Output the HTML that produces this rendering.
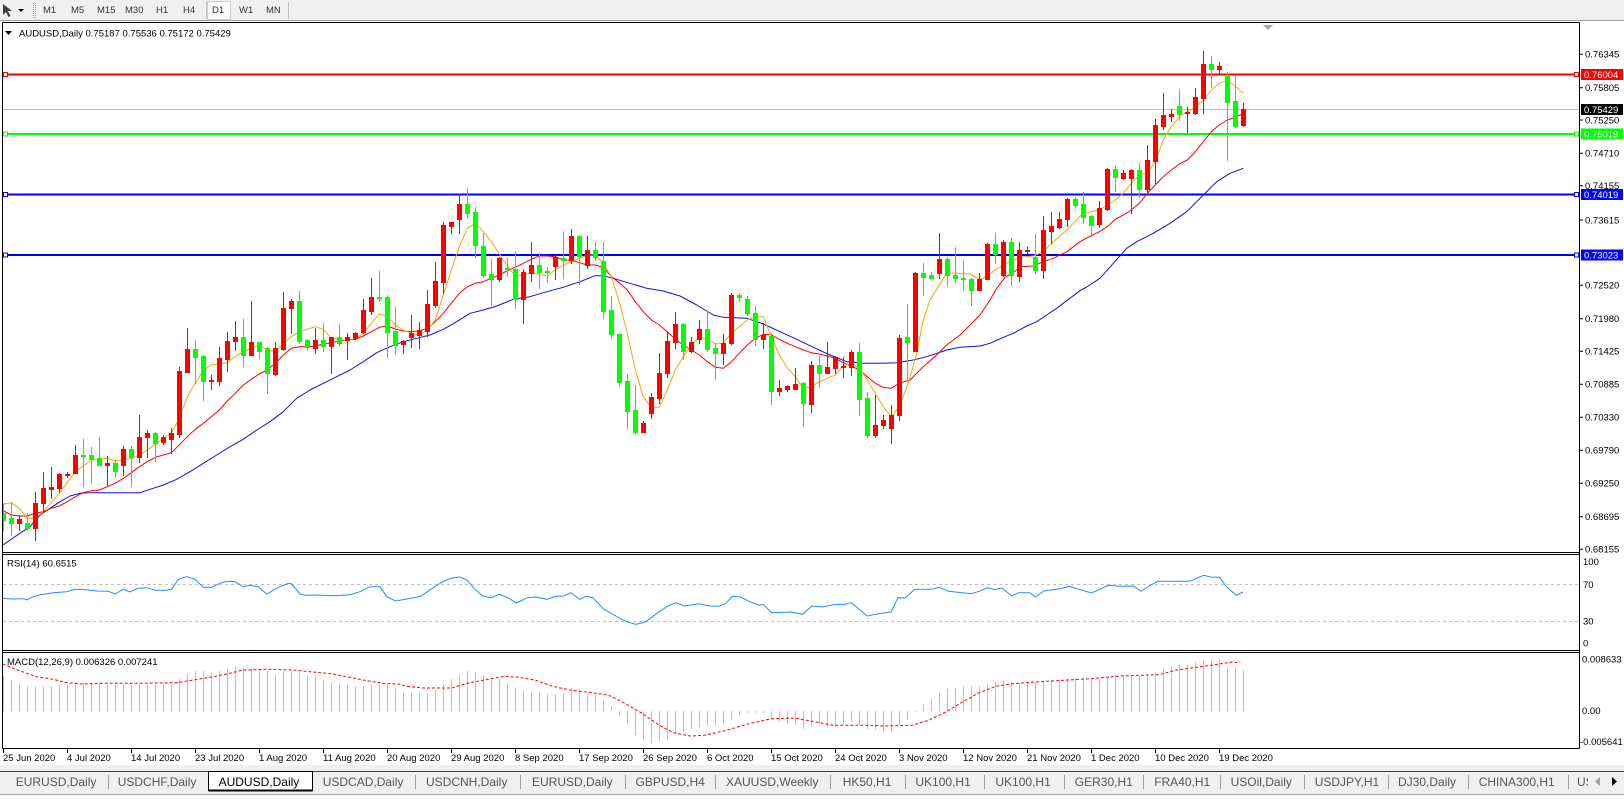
<!DOCTYPE html>
<html><head><meta charset="utf-8">
<style>
html,body{margin:0;padding:0;background:#fff;}
body{width:1624px;height:800px;overflow:hidden;}
svg{display:block;font-family:"Liberation Sans",Arial,sans-serif;}
</style></head><body>
<svg id="s" width="1624" height="800" viewBox="0 0 1624 800" xmlns="http://www.w3.org/2000/svg">
<defs>
<clipPath id="cm"><rect x="3" y="23" width="1576" height="529"/></clipPath>
<clipPath id="cr"><rect x="3" y="555" width="1576" height="95"/></clipPath>
<clipPath id="cd"><rect x="3" y="653" width="1576" height="95"/></clipPath>
</defs>
<rect width="1624" height="800" fill="#fff"/>

<!-- Toolbar -->
<rect x="0" y="0" width="1624" height="21" fill="#f0f0f0"/>
<line x1="0" y1="20.5" x2="1624" y2="20.5" stroke="#a0a0a0"/>
<path d="M3,4 L3,15 L6,12 L8.5,17 L10.5,16 L8,11 L12,11 Z" fill="#404040"/>
<polygon points="18,9 24,9 21,12" fill="#000"/>
<line x1="33.5" y1="3" x2="33.5" y2="18" stroke="#a0a0a0" stroke-dasharray="1,1"/>
<line x1="35.5" y1="3" x2="35.5" y2="18" stroke="#a0a0a0" stroke-dasharray="1,1"/>
<rect x="207.5" y="1.5" width="23" height="18" fill="#fbfbfb" stroke="#d0d0d0"/>
<line x1="206.5" y1="2" x2="206.5" y2="19" stroke="#c0c0c0"/>
<line x1="288.5" y1="2" x2="288.5" y2="19" stroke="#c0c0c0"/>
<g font-size="9.5" fill="#333">
<text x="43" y="13">M1</text><text x="71" y="13">M5</text><text x="97" y="13">M15</text><text x="125" y="13">M30</text>
<text x="156" y="13">H1</text><text x="183" y="13">H4</text><text x="212" y="13">D1</text><text x="239" y="13">W1</text><text x="266" y="13">MN</text>
</g>

<!-- Frame -->
<line x1="2.5" y1="22.5" x2="1579.5" y2="22.5" stroke="#000"/>
<line x1="2.5" y1="22.5" x2="2.5" y2="748.5" stroke="#000"/>
<line x1="1579.5" y1="22.5" x2="1579.5" y2="748.5" stroke="#000"/>
<line x1="2.5" y1="552.5" x2="1579.5" y2="552.5" stroke="#000"/>
<line x1="2.5" y1="554.5" x2="1579.5" y2="554.5" stroke="#000"/>
<line x1="2.5" y1="650.5" x2="1579.5" y2="650.5" stroke="#000"/>
<line x1="2.5" y1="652.5" x2="1579.5" y2="652.5" stroke="#000"/>
<line x1="2.5" y1="748.5" x2="1579.5" y2="748.5" stroke="#000"/>

<!-- title -->
<polygon points="5,31 12,31 8.5,35" fill="#000"/>
<text x="19" y="36.5" font-size="9.5" fill="#000">AUDUSD,Daily  0.75187 0.75536 0.75172 0.75429</text>
<polygon points="1263,25 1273,25 1268,30" fill="#a8a8a8"/>

<!-- price axis labels -->
<path d="M1579.5,54.3H1583M1579.5,87.7H1583M1579.5,120H1583M1579.5,153.3H1583M1579.5,185.7H1583M1579.5,220H1583M1579.5,285.3H1583M1579.5,318.7H1583M1579.5,351.3H1583M1579.5,384.3H1583M1579.5,417.3H1583M1579.5,450.3H1583M1579.5,483.3H1583M1579.5,516.7H1583M1579.5,549.3H1583" stroke="#000"/>
<g font-size="9.5" fill="#000">
<text x="1585" y="57.7">0.76345</text>
<text x="1585" y="91.1">0.75805</text>
<text x="1585" y="123.4">0.75250</text>
<text x="1585" y="156.7">0.74710</text>
<text x="1585" y="189.1">0.74155</text>
<text x="1585" y="223.4">0.73615</text>
<text x="1585" y="288.7">0.72520</text>
<text x="1585" y="322.1">0.71980</text>
<text x="1585" y="354.7">0.71425</text>
<text x="1585" y="387.7">0.70885</text>
<text x="1585" y="420.7">0.70330</text>
<text x="1585" y="453.7">0.69790</text>
<text x="1585" y="486.7">0.69250</text>
<text x="1585" y="520.1">0.68695</text>
<text x="1585" y="552.7">0.68155</text>
</g>

<!-- horizontal lines -->
<line x1="3" y1="109.5" x2="1579" y2="109.5" stroke="#c0c0c0"/>
<g stroke-width="2">
<line x1="3" y1="74.5" x2="1579" y2="74.5" stroke="#ff0000"/>
<line x1="3" y1="134" x2="1579" y2="134" stroke="#00ff00"/>
<line x1="3" y1="194.5" x2="1579" y2="194.5" stroke="#0000ff"/>
<line x1="3" y1="255" x2="1579" y2="255" stroke="#0000ff"/>
</g>
<g fill="#fff" stroke-width="1">
<rect x="3.5" y="72.5" width="4" height="4" stroke="#ff0000"/>
<rect x="1574.5" y="72.5" width="4" height="4" stroke="#ff0000"/>
<rect x="3.5" y="132" width="4" height="4" stroke="#00ff00"/>
<rect x="1574.5" y="132" width="4" height="4" stroke="#00ff00"/>
<rect x="3.5" y="192.5" width="4" height="4" stroke="#0000ff"/>
<rect x="1574.5" y="192.5" width="4" height="4" stroke="#0000ff"/>
<rect x="3.5" y="253" width="4" height="4" stroke="#0000ff"/>
<rect x="1574.5" y="253" width="4" height="4" stroke="#0000ff"/>
</g>
<rect x="1581" y="69" width="42" height="11" fill="#ff0000"/>
<rect x="1581" y="104" width="42" height="11" fill="#000"/>
<rect x="1581" y="128.5" width="42" height="11" fill="#00ff00"/>
<rect x="1581" y="189" width="42" height="11" fill="#0000ff"/>
<rect x="1581" y="249.5" width="42" height="11" fill="#0000ff"/>
<g font-size="9.5" fill="#fff">
<text x="1584" y="78">0.76004</text>
<text x="1584" y="113">0.75429</text>
<text x="1584" y="137.5">0.75019</text>
<text x="1584" y="198">0.74019</text>
<text x="1584" y="258.5">0.73023</text>
</g>

<!-- moving averages -->
<g clip-path="url(#cm)" fill="none" stroke-width="1" stroke-linejoin="round">
<polyline stroke="#1010dd" points="3,545 10,540 20,533.3 30,526.7 40,515 50,508.3 60,501.7 70,496 80,493.3 90,492.7 140,492.7 150,489.3 163.3,485 176.7,479.3 190,471.7 203.3,463.3 216.7,455 230,446.7 243.3,439.3 256.7,430 270,421.7 283.3,411.7 296.7,398.3 310,390 323.3,383.3 336.7,376.7 350,370 363.3,361.7 376.7,352.7 390,346.7 403.3,341.7 416.7,338.3 430,335 443.3,329.3 456.7,321.7 470,313.3 483.3,310 496.7,306 513.3,299.3 530,296.7 546.7,291.7 563.3,287.3 580,281.7 595,275.7 603.3,275.7 613.3,278.3 630,283.3 646.7,288.3 663.3,291 680,296 696.7,305 713.3,315 723.3,317.3 746.7,318.3 763.3,324 780,331.7 796.7,339.3 813.3,347.3 830,355 846.7,361.7 863.3,363.3 880,363.3 896.7,362.7 913.3,360 926.7,356.7 946.7,350 960,347.3 980,346 990,343.3 1003.3,337.3 1013.3,333.3 1026.7,326 1036.7,321.7 1046.7,315 1056.7,308.3 1066.7,300.7 1080,290.7 1086.7,287 1100,278.3 1113.3,263.3 1126.7,248.3 1136.7,241.7 1153.3,233.3 1170,223.3 1186.7,211.7 1203.3,195 1216.7,181.7 1230,173.3 1243.3,168.3"/>
<polyline stroke="#ff0000" points="3.3,510.7 11.3,515 19.3,516 27.3,516 35.3,513.3 43.3,511.7 51.3,508.3 59.3,506 67.3,501.7 75.3,496.7 83.3,492.7 91.3,490.7 99.3,490 107.3,486.7 115.3,483.3 123.3,478.3 131.3,472.7 139.3,466.7 147.3,461.7 155.3,457.3 163.3,455 171.3,452.7 179.3,445 187.3,436.7 195.3,429.3 203.3,423.3 211.3,416.7 219.3,410 227.3,401 235.3,393.3 243.3,385 251.3,379.3 259.3,374 267.3,370 275.3,363.3 283.3,355 291.3,348.3 299.3,346.7 307.3,346.7 315.3,346 323.3,344 331.3,342.7 339.3,341 347.3,340 355.3,339.3 363.3,336 371.3,331.7 379.3,327.3 387.3,326 395.3,329 403.3,331 411.3,331.7 419.3,330.7 427.3,328.3 435.3,321.7 443.3,313.3 451.3,303.3 459.3,293.3 467.3,286.7 475.3,283.3 483.3,281.7 491.3,278.3 499.3,275 507.3,270.7 515.3,267.3 523.3,263.3 531.3,259.3 539.3,256 547.3,256 555.3,256.7 563.3,260 571.3,260 579.3,262.7 587.3,265 595.3,265 603.3,267.3 611.3,276.7 619.3,282.7 627.3,290 635.3,301.7 643.3,311.7 651.3,320 659.3,325 667.3,331.7 675.3,339.3 683.3,345 691.3,350 699.3,355 707.3,361.7 715.3,367.3 723.3,368.3 731.3,361.7 739.3,353.3 747.3,345 755.3,338.3 763.3,334.3 771.3,335 779.3,339.3 787.3,343.3 795.3,346.7 803.3,350 811.3,352.7 819.3,354 827.3,356 835.3,358.3 843.3,362.7 851.3,366 859.3,370 867.3,376.7 875.3,383.3 883.3,387.3 891.3,388.3 899.3,383.3 910,380 923.3,366.7 936.7,355 946.7,345 960,335 970,325 980,315 990,300 996.7,288.3 1005,277.3 1013.3,272.7 1020,266.7 1033.3,266 1043.3,261.7 1053.3,258.3 1066.7,251.7 1080,241.7 1091.3,235.7 1099.3,231.7 1107.3,226.7 1115.3,219.3 1123.3,215 1131.3,210 1139.3,203.3 1147.3,193.3 1155.3,185 1163.3,176.7 1171.3,170 1179.3,164 1187.3,160 1195.3,151.7 1203.3,141.7 1211.3,131.7 1219.3,125 1227.3,120 1235.3,117.3 1243.3,113.3"/>
<polyline stroke="#ffa500" points="3.3,504.3 11.3,502.7 19.3,508.3 27.3,518.3 35.3,518.3 43.3,511.7 59.3,493.3 75.3,471.7 91.3,460 107.3,458.3 115.3,460.7 131.3,458.7 139.3,455 147.3,450 163.3,438.3 171.3,433.3 179.3,418.3 187.3,396.7 203.3,370 211.3,365 227.3,362.7 235.3,356.7 243.3,351.7 259.3,345 267.3,350 275.3,351.7 283.3,343.3 291.3,336.7 299.3,331.7 307.3,329.3 315.3,326.7 323.3,329.3 331.3,338.3 347.3,340.7 355.3,338.3 363.3,333.3 371.3,323.3 379.3,314 387.3,316.7 395.3,325 403.3,330 411.3,333.3 419.3,335 427.3,330 435.3,320 443.3,295 451.3,270 459.3,246.7 467.3,228.3 475.3,223.3 483.3,231.7 491.3,241.7 499.3,254 507.3,266 515.3,276 523.3,275 531.3,273.3 539.3,274.3 547.3,276 555.3,270 563.3,265 571.3,261.7 579.3,258.3 587.3,255 595.3,255 603.3,263.3 611.3,276.7 619.3,301.7 627.3,333.3 635.3,370 643.3,396.7 651.3,407.3 659.3,407.3 667.3,390 675.3,370 683.3,356.7 691.3,345 699.3,337.3 707.3,339.3 715.3,344 723.3,343.3 731.3,333.3 739.3,326.7 747.3,320 755.3,316.7 763.3,316.7 771.3,336.7 779.3,355 787.3,368.3 795.3,376.7 803.3,388.3 811.3,386.7 819.3,381.7 827.3,378.3 835.3,375 843.3,366.7 851.3,362.7 859.3,368.3 867.3,380 875.3,393.3 883.3,406.7 891.3,416.7 899.3,406.7 909.3,380 916.7,353.3 923.3,320 930,300 938.3,286.7 946.7,272.7 956.7,273.3 970,274 980,279.3 986.7,276.7 995,270 1006.7,263.3 1020,257.3 1033.3,256 1043.3,251.7 1053.3,241.7 1066.7,230 1076.7,220 1083.3,212.7 1091.3,211.7 1099.3,210 1107.3,205 1115.3,200 1123.3,193.3 1131.3,183.3 1139.3,175 1147.3,173.3 1155.3,161.7 1163.3,140 1171.3,126.7 1179.3,116.7 1187.3,111.7 1195.3,107.3 1203.3,100 1211.3,90 1219.3,83.3 1227.3,80.7 1235.3,86 1243.3,93.3"/>
</g>
<g id="candles" clip-path="url(#cm)" shape-rendering="crispEdges"></g>

<!-- RSI -->
<text x="7" y="566.5" font-size="9.5" fill="#000">RSI(14) 60.6515</text>
<line x1="3" y1="584.5" x2="1579" y2="584.5" stroke="#c0c0c0" stroke-dasharray="3,3"/>
<line x1="3" y1="621.5" x2="1579" y2="621.5" stroke="#c0c0c0" stroke-dasharray="3,3"/>
<g clip-path="url(#cr)">
<polyline fill="none" stroke="#1e90ff" stroke-width="1" points="2.7,598.3 13.3,599 23.3,598.7 26.7,600 33.3,596.7 40,594.7 53.3,592.7 66.7,591.7 75,589.3 86.7,589.7 96.7,591 108.3,591.3 115,594 123.3,589.3 130,592 138.3,588.3 146.7,587.7 155,590.3 166.7,590.3 171.7,589.3 178.3,579.3 186.7,576.7 195,579.3 203.3,587.3 211.7,587.3 220,583.3 226.7,581.3 235,581.7 243.3,586.7 250,585.3 258.3,586.7 266.7,594 276.7,588.3 288.3,583.3 291.7,584 300,594 305,595.3 316.7,595 333.3,595.7 350,594.7 360,591.7 370,586.7 380,586.7 386.7,596.7 395.6,601 412.4,598 420.9,596.3 429.3,590.3 443.3,581.3 451.7,578 460.1,577 467.4,580.3 474.2,588.7 482.6,596 491,597.7 499.4,594.3 507.8,597.7 516.3,603 527.5,597.7 535.9,597 547.1,599.3 555.5,596.3 564,596 570.7,592.7 579.7,599.3 586.4,596.3 593.1,597.7 603.2,608.7 614.5,615.3 625.7,621.3 635.8,624.3 645.3,622 656.6,613.7 667.8,606 676.2,602.7 684.6,606 698.6,603.7 709.9,606 718.3,606.3 725.6,603.7 732.3,596.3 740.7,597 749.1,601.3 759.3,605.3 763.2,604.3 771.6,612.7 791.2,612 802.5,614.3 812,606 822.1,607 833.3,604.7 844.5,604.3 851.3,602.7 858.6,608.7 867,616 878.2,613.7 891.1,612 897.9,597.7 905.2,598 914.7,589.3 931.5,589.3 938.8,587.3 948.4,591.3 962.4,592.7 970.8,593.7 979.2,591.3 987.7,587.7 995,589.7 1001.7,588 1011.8,596 1018.5,592.7 1029.7,592.7 1035.3,597 1043.8,591 1052.2,589.7 1060.6,588.7 1069,586.3 1080.3,589.7 1091.5,593 1099.9,589.3 1108.3,585.3 1119.5,586.3 1133.5,586 1140.9,591.3 1147.6,587 1157.7,581.3 1189.7,581.3 1203.7,575.3 1210.4,577 1219.4,577.3 1226.1,586.3 1236.2,595.3 1243,592"/>
</g>
<g font-size="9.5" fill="#000">
<text x="1583" y="565">100</text>
<text x="1583" y="587.8">70</text>
<text x="1583" y="624.6">30</text>
<text x="1583" y="646.7">0</text>
</g>

<!-- MACD -->
<g id="hist" clip-path="url(#cd)" shape-rendering="crispEdges"></g>
<g clip-path="url(#cd)">
<polyline fill="none" stroke="#ff0000" stroke-width="1" stroke-dasharray="3,2" points="2.7,664 13.3,668.3 26.7,673.3 36.7,676.7 53.3,679.3 66.7,682.7 83.3,684 100,683.3 133.3,683.3 176.7,682.7 193.3,680 210,677.3 226.7,674 243.3,670 266.7,669.3 293.3,670 310,671.7 333.3,674 346.7,676.7 366.7,680.7 383.3,683.3 400,684.3 406.8,686.3 423.7,688 451.7,688 468.6,683 485.4,679.7 505,676.3 519.1,677.3 535.9,680.3 552.7,686.3 569.6,690 592,692.7 608.9,695.3 625.7,703.7 642.5,713.7 659.4,725.3 673.4,732.7 690.2,736 704.3,735.3 726.7,730.3 749.1,723.7 771.6,718.7 794,718 816.5,722 833.3,725.3 867,725.3 883.8,726 911.9,725.3 928.7,720.3 945.6,712 962.4,702 979.2,692.7 996.1,686.3 1012.9,683.7 1035.3,682 1063.4,680.3 1091.5,678.7 1119.5,676 1158.8,674.7 1175.6,670.3 1198.1,667 1214.9,664.7 1231.7,662 1240.2,663"/>
</g>
<text x="7" y="665" font-size="9.5" fill="#000">MACD(12,26,9) 0.006326 0.007241</text>
<g font-size="9.5" fill="#000">
<text x="1582" y="662.4">0.008633</text>
<text x="1582" y="714">0.00</text>
<text x="1580" y="745">-0.005641</text>
</g>

<!-- x axis -->
<path d="M3.5,748.5V753M67.5,748.5V753M131.5,748.5V753M195.5,748.5V753M259.5,748.5V753M323.5,748.5V753M387.5,748.5V753M451.5,748.5V753M515.5,748.5V753M579.5,748.5V753M643.5,748.5V753M707.5,748.5V753M771.5,748.5V753M835.5,748.5V753M899.5,748.5V753M963.5,748.5V753M1027.5,748.5V753M1091.5,748.5V753M1155.5,748.5V753M1219.5,748.5V753" stroke="#000"/>
<g font-size="9.5" fill="#000">
<text x="3" y="761">25 Jun 2020</text>
<text x="67" y="761">4 Jul 2020</text>
<text x="131" y="761">14 Jul 2020</text>
<text x="195" y="761">23 Jul 2020</text>
<text x="259" y="761">1 Aug 2020</text>
<text x="323" y="761">11 Aug 2020</text>
<text x="387" y="761">20 Aug 2020</text>
<text x="451" y="761">29 Aug 2020</text>
<text x="515" y="761">8 Sep 2020</text>
<text x="579" y="761">17 Sep 2020</text>
<text x="643" y="761">26 Sep 2020</text>
<text x="707" y="761">6 Oct 2020</text>
<text x="771" y="761">15 Oct 2020</text>
<text x="835" y="761">24 Oct 2020</text>
<text x="899" y="761">3 Nov 2020</text>
<text x="963" y="761">12 Nov 2020</text>
<text x="1027" y="761">21 Nov 2020</text>
<text x="1091" y="761">1 Dec 2020</text>
<text x="1155" y="761">10 Dec 2020</text>
<text x="1219" y="761">19 Dec 2020</text>
</g>

<!-- tab bar -->
<rect x="0" y="765" width="1624" height="35" fill="#f0f0f0"/>
<line x1="0" y1="771.5" x2="1624" y2="771.5" stroke="#404040"/>
<line x1="0" y1="794.5" x2="1624" y2="794.5" stroke="#a0a0a0"/>
<rect x="0" y="795" width="1624" height="5" fill="#fafafa"/>
<rect x="208.5" y="771.5" width="104" height="19" fill="#fff" stroke="#000"/>
<line x1="208.5" y1="790.5" x2="312.5" y2="790.5" stroke="#000" stroke-width="2"/>
<path d="M108.5,775V789M415.5,775V789M520.5,775V789M625.5,775V789M715.5,775V789M830.5,775V789M905.5,775V789M984.5,775V789M1064.5,775V789M1143.5,775V789M1220.5,775V789M1304.5,775V789M1388.5,775V789M1468.5,775V789M1568.5,775V789" stroke="#a0a0a0"/>
<g font-size="12" fill="#555">
<text x="15.7" y="786">EURUSD,Daily</text>
<text x="117.7" y="786">USDCHF,Daily</text>
<text x="218.6" y="786" fill="#000">AUDUSD,Daily</text>
<text x="322.7" y="786">USDCAD,Daily</text>
<text x="426" y="786">USDCNH,Daily</text>
<text x="532" y="786">EURUSD,Daily</text>
<text x="635.5" y="786">GBPUSD,H4</text>
<text x="726" y="786">XAUUSD,Weekly</text>
<text x="842.7" y="786">HK50,H1</text>
<text x="915.4" y="786">UK100,H1</text>
<text x="995.4" y="786">UK100,H1</text>
<text x="1074.8" y="786">GER30,H1</text>
<text x="1154.2" y="786">FRA40,H1</text>
<text x="1230.6" y="786">USOil,Daily</text>
<text x="1314.7" y="786">USDJPY,H1</text>
<text x="1398" y="786">DJ30,Daily</text>
<text x="1478.7" y="786">CHINA300,H1</text>
<text x="1577" y="786">USDCHF,H1</text>
</g>
<rect x="1588" y="772" width="36" height="22" fill="#f0f0f0"/>
<polygon points="1600,777 1600,786 1595,781.5" fill="#a0a0a0"/>
<polygon points="1612,777 1612,786 1617,781.5" fill="#000"/>
</svg>
<script>
(function(){
var NS="http://www.w3.org/2000/svg";
function add(p,t,a){var e=document.createElementNS(NS,t);for(var k in a)e.setAttribute(k,a[k]);p.appendChild(e);return e;}
var A=[['g',1030,1050,1000,1080],['g',1045,1058,995,1095],['r',1047,1058,1035,1080],['g',1058,1075,1030,1080],['r',1000,1075,965,1110],['r',955,1000,907,1025],['r',951,956,891,985],['r',912,953,908,965],['r',911,914,905,920],['r',855,910,825,910],
['g',855,858,807,948],['g',855,867,830,940],['g',865,885,800,885],['r',880,885,858,945],['g',878,902,870,922],['r',838,885,828,915],['g',838,860,828,948],['r',800,862,735,875],['r',790,800,780,860],['g',790,818,785,872],
['r',800,816,796,822],['r',790,806,773,850],['r',603,792,590,800],['r',537,605,473,605],['g',537,560,510,640],['g',558,634,557,690],['r',630,634,615,656],['r',564,632,530,644],['r',513,566,485,602],['r',501,512,453,540],
['g',500,556,447,588],['r',516,554,393,555],['g',516,542,515,563],['g',534,610,530,668],['r',534,612,515,614],['r',414,538,366,540],['r',393,415,386,488],['g',393,512,363,518],['g',510,531,508,540],['r',510,533,473,550],
['g',510,527,460,543],['r',501,527,500,608],['g',501,518,462,525],['r',501,510,490,567],['r',488,505,486,508],['r',420,486,388,490],['r',381,422,323,433],['g',381,383,302,392],['g',381,485,375,560],['g',484,525,410,553],
['r',513,522,510,548],['r',488,500,435,530],['r',480,495,455,533],['r',402,483,360,497],['r',333,406,275,410],['r',165,335,155,370],['r',157,168,157,190],['r',102,146,72,188],['g',102,128,53,142],['g',126,226,111,260]];
var B=[['g',198,285,158,292],['g',282,297,237,375],['r',235,297,230,302],['g',264,268,235,288],['g',268,358,213,383],['r',277,357,267,428],['r',255,278,186,303],['g',255,275,220,325],['g',273,276,262,305],['r',232,257,225,297],
['g',234,240,153,295],['r',168,240,148,250],['g',168,228,165,313],['r',210,254,168,265],['g',210,232,186,239],['g',242,392,186,415],['g',390,463,348,475],['g',462,605,460,617],['g',603,692,583,745],['g',690,755,615,763],
['r',728,755,722,755],['r',650,700,640,715],['r',578,655,520,670],['r',483,580,455,590],['r',432,485,397,505],['g',432,512,430,537],['r',485,512,470,515],['r',447,477,421,490],['g',447,507,393,512],['g',503,520,490,598],
['r',490,520,463,552],['r',345,490,340,492],['g',344,352,338,362],['g',357,400,348,405],['g',400,476,378,495],['r',465,478,430,503],['g',468,632,460,673],['r',624,632,600,646],['r',618,626,614,632],['r',612,626,563,627],
['g',610,670,605,737],['r',555,673,543,695],['g',555,580,528,620],['r',561,578,486,580],['r',532,563,528,578],['r',557,560,530,590],['r',517,560,510,585],['g',517,657,490,705],['g',655,765,635,770],['r',736,765,646,770],
['r',720,735,705,745],['r',705,745,675,790],['r',475,705,465,720]];
var C=[['g',922,935,822,1050],['r',728,962,725,962],['g',728,740,700,795],['g',735,743,725,745],['r',687,728,608,745],['g',687,735,680,768],['g',735,745,650,755],['g',744,748,690,780],['g',747,780,745,825],['r',747,780,730,780],
['r',642,747,640,748],['g',642,672,608,700],['r',635,735,630,737],['g',636,735,625,765],['r',660,737,635,752],['r',660,663,652,670],['g',680,720,612,730],['r',600,720,557,745],['r',588,602,545,640],['r',567,590,545,594],
['r',507,568,503,588],['g',507,524,502,533],['g',522,560,487,578],['g',558,585,555,612],['r',535,582,513,590],['r',417,537,413,540],['g',417,440,407,483],['r',430,443,420,447],['r',420,443,418,550],['g',420,478,400,502],
['r',390,477,345,490],['r',285,392,267,458],['r',255,288,188,296],['r',253,257,237,272],['g',228,252,177,270],['r',245,250,232,305],['r',201,250,173,252],['r',101,203,63,248],['g',101,118,77,170],['r',108,118,95,132],
['g',137,215,127,390],['g',213,287,137,290],['r',237,285,219,288]];
var g=document.getElementById('candles');
var segs=[[170,A],[180,B],[30,C]];
var i=0;
for(var s=0;s<segs.length;s++){var off=segs[s][0],arr=segs[s][1];
 for(var j=0;j<arr.length;j++){var c=arr[j];var col=c[0]=='r'?'#ff0000':'#00ff00';
  var bt=Math.round(off+c[1]/3),bb=Math.round(off+c[2]/3),wt=Math.round(off+c[3]/3),wb=Math.round(off+c[4]/3);
  if(wt>bt)wt=bt; if(wb<bb)wb=bb;
  var x=8*i+1;
  add(g,'rect',{x:x+2,y:wt,width:1,height:Math.max(1,wb-wt+1),fill:col});
  add(g,'rect',{x:x,y:bt,width:5,height:Math.max(1,bb-bt+1),fill:col});
  i++;}}
var H=[676,680,683.3,686,686,686,686,684.7,684.7,683.3,683.3,683.3,683.3,684.7,684.7,684.7,685.3,684.7,684.7,684.7,684.7,684.7,679.3,674,671,671,672.3,671,669.3,667,668.3,669.3,669.3,671,674,672.3,670.7,673.3,675.3,677.3,680,682,683.3,684.7,686,686,684.7,684.7,685.3,
688.7,692.7,693.3,693.3,693.3,690.3,684,678.7,673.7,671,672,674.7,679.3,678.7,683,688,689.7,691.3,692,694,694,693.3,691.3,692,693.7,693.7,701.3,707,716,724.7,734.7,741.3,742.7,742,739.7,734.3,732,729.3,726.7,726,726,725.3,718.7,714.7,712.7,712.7,712.7,717.7,722,723.7,725.3,728.7,726,725.3,727,727,724.3,722,724.7,728.7,730.3,732,732,725.3,720.3,711.5,704,697.7,693.3,688.7,688,686,686,686,684,682,681,682,682.7,682.7,682.7,681.3,680,680,678.7,678,678,679.3,679.3,677.7,674.7,674.7,675.3,676,674.7,672,668.7,667,665.3,664.7,662,660.3,659.3,659.3,667,667,669.7];
var gh=document.getElementById('hist');
for(var k=0;k<H.length;k++){var xx=8*k+3;var y0=711,y1=Math.round(H[k]);var top=Math.min(y0,y1),h=Math.max(1,Math.abs(y1-y0));
 add(gh,'rect',{x:xx,y:top,width:1,height:h,fill:'#c0c0c0'});}
})();
</script>
</body></html>
